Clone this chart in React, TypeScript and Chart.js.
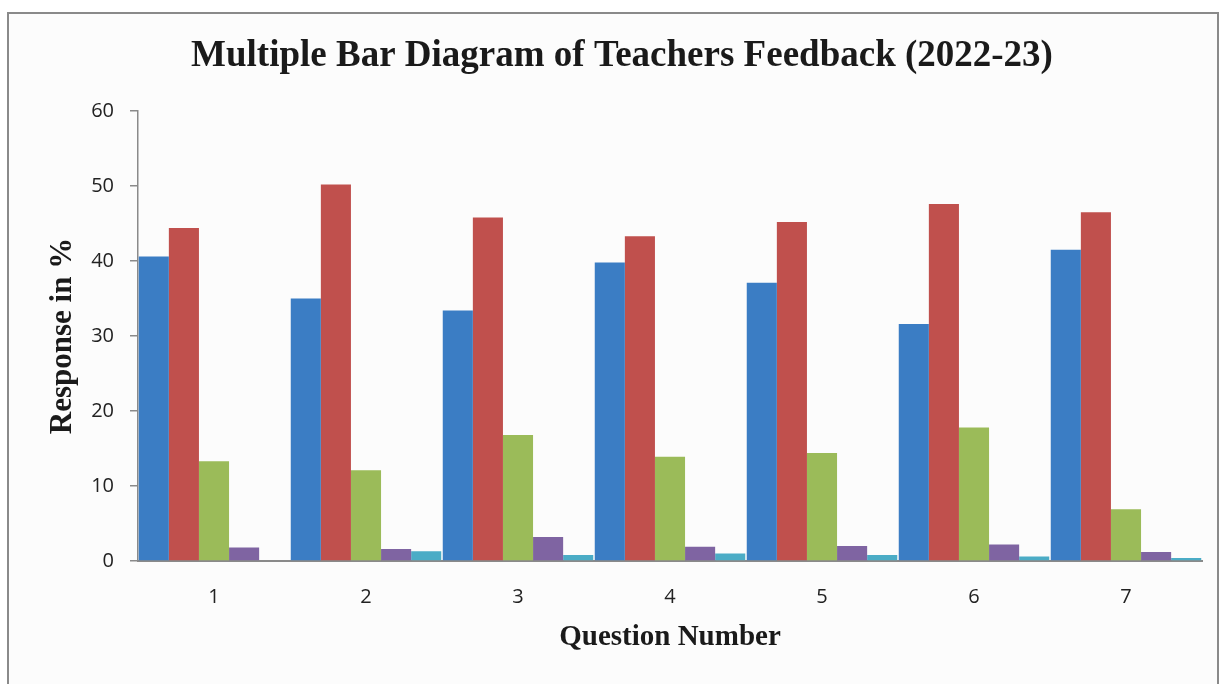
import React, { useEffect, useRef } from "react";
import { Chart, registerables } from "chart.js";

Chart.register(...registerables);

const categories = ["1", "2", "3", "4", "5", "6", "7"];
const seriesA = [40.6, 35.0, 33.4, 39.8, 37.1, 31.6, 41.5];
const seriesB = [44.4, 50.2, 45.8, 43.3, 45.2, 47.6, 46.5];
const seriesC = [13.3, 12.1, 16.8, 13.9, 14.4, 17.8, 6.9];
const seriesD = [1.8, 1.6, 3.2, 1.9, 2.0, 2.2, 1.2];
const seriesE = [0.0, 1.3, 0.8, 1.0, 0.8, 0.6, 0.4];
const seriesNames = ["Series 1", "Series 2", "Series 3", "Series 4", "Series 5"];
const seriesColors = ["#3b7dc4", "#c0504d", "#9bbb59", "#7f64a2", "#4bacc6"];
const yTicks = [0, 10, 20, 30, 40, 50, 60];

const titleText = "Multiple Bar Diagram of Teachers Feedback (2022-23)";
const xTitle = "Question Number";
const yTitle = "Response in %";

export default function App() {
  const ref = useRef<HTMLCanvasElement | null>(null);

  useEffect(() => {
    if (!ref.current) return;
    const values = [seriesA, seriesB, seriesC, seriesD, seriesE];
    const chart = new Chart(ref.current, {
      type: "bar",
      data: {
        labels: categories,
        datasets: values.map((v, i) => ({
          label: seriesNames[i],
          data: v,
          backgroundColor: seriesColors[i],
          borderWidth: 0,
          categoryPercentage: 0.99,
          barPercentage: 1.0,
        })),
      },
      options: {
        responsive: false,
        animation: false,
        devicePixelRatio: 1,
        layout: { padding: { left: 33, right: 15, top: 0, bottom: 12 } },
        plugins: {
          legend: { display: false },
          tooltip: { enabled: false },
          title: {
            display: true,
            text: titleText,
            color: "#1a1a1a",
            font: { family: "Liberation Serif", size: 37, weight: "bold" },
            padding: { top: 20, bottom: 32.6 },
          },
        },
        scales: {
          x: {
            grid: { drawOnChartArea: false, drawTicks: false },
            border: { color: "#8a8a8a", width: 2 },
            ticks: {
              color: "#222",
              font: { family: "Open Sans", size: 20 },
              padding: 24,
            },
            title: {
              display: true,
              text: xTitle,
              color: "#1a1a1a",
              font: { family: "Liberation Serif", size: 29, weight: "bold" },
              padding: { top: 0, bottom: 23 },
            },
            afterFit: (scale: any) => {
              scale.height = 117;
            },
          },
          y: {
            min: 0,
            max: 60,
            afterBuildTicks: (scale: any) => {
              scale.ticks = yTicks.map((v) => ({ value: v }));
            },
            grid: {
              drawOnChartArea: false,
              drawTicks: true,
              tickLength: 8,
              color: "#8a8a8a",
              lineWidth: 1.5,
            },
            border: { color: "#8a8a8a", width: 1.5 },
            ticks: {
              color: "#222",
              font: { family: "Open Sans", size: 20 },
              padding: 16,
            },
            title: {
              display: true,
              text: yTitle,
              color: "#1a1a1a",
              font: { family: "Liberation Serif", size: 31, weight: "bold" },
              padding: { top: 2, bottom: 0 },
            },
            afterFit: (scale: any) => {
              scale.width = 96;
            },
          },
        },
      },
    });
    return () => chart.destroy();
  }, []);

  return (
    <div
      style={{
        position: "absolute",
        left: 0,
        top: 0,
        width: 1224,
        height: 684,
        overflow: "hidden",
        background: "#ffffff",
      }}
    >
      <div
        style={{
          position: "absolute",
          left: 7,
          top: 12,
          width: 1212,
          height: 680,
          border: "2px solid #8a8a8a",
          boxSizing: "border-box",
          background: "#fcfcfc",
        }}
      >
        <canvas ref={ref} width={1208} height={676} style={{ display: "block" }} />
      </div>
    </div>
  );
}
